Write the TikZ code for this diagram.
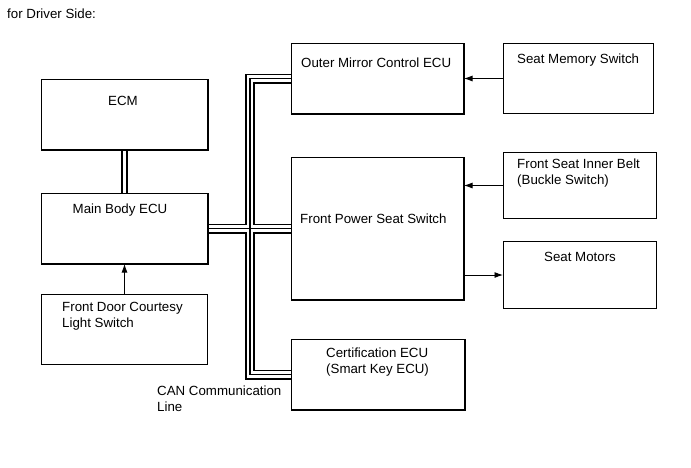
\documentclass[tikz,border=0pt]{standalone}
\usepackage{fontspec}
\setmainfont{Liberation Sans}
\usetikzlibrary{arrows.meta}
\begin{document}
\begin{tikzpicture}[x=1pt,y=-1pt,
  box/.style={draw,line width=1pt,rectangle,inner sep=0pt,anchor=north west},
  lbl/.style={inner sep=0pt,font=\fontsize{13.3}{16}\selectfont},
  sig/.style={line width=0.9pt,-{Latex[length=8.5pt,width=6pt]}},
  busouter/.style={line width=10pt,black},
  businner/.style={line width=6.2pt,white},
  buscore/.style={line width=1.1pt,black},
  pairouter/.style={line width=7pt,black},
  pairinner/.style={line width=2.6pt,white}]
\useasboundingbox (0,0) rectangle (691,467);
% boxes
\node[box,minimum width=166pt,minimum height=70pt] (ecm) at (41,79) {};
\node[box,minimum width=166pt,minimum height=70pt] (mainbody) at (41,193) {};
\node[box,minimum width=166pt,minimum height=70pt] (door) at (41,294) {};
\node[box,minimum width=172pt,minimum height=70pt] (omirror) at (291,43) {};
\node[box,minimum width=172pt,minimum height=142pt] (fpss) at (291,157) {};
\node[box,minimum width=173pt,minimum height=70pt] (cert) at (291,339) {};
\node[box,minimum width=150pt,minimum height=70pt] (smem) at (503,43) {};
\node[box,minimum width=153pt,minimum height=66pt] (buckle) at (503,152) {};
\node[box,minimum width=153pt,minimum height=67pt] (motors) at (503,241) {};
% texts
\node[lbl,anchor=base west] (title) at (7,18) {for Driver Side:};
\node[lbl,anchor=base] (tecm) at (123,105) {ECM};
\node[lbl,anchor=base] (tmain) at (120,213) {Main Body ECU};
\node[lbl,anchor=base west] (tdoor1) at (62,311) {Front Door Courtesy};
\node[lbl,anchor=base west] (tdoor2) at (62,327) {Light Switch};
\node[lbl,anchor=base west] (tmirror) at (301,67) {Outer Mirror Control ECU};
\node[lbl,anchor=base west] (tfpss) at (300,223) {Front Power Seat Switch};
\node[lbl,anchor=base west] (tcert1) at (326,357) {Certification ECU};
\node[lbl,anchor=base west] (tcert2) at (326,373) {(Smart Key ECU)};
\node[lbl,anchor=base west] (tcan1) at (157,395) {CAN Communication};
\node[lbl,anchor=base west] (tcan2) at (157,411) {Line};
\node[lbl,anchor=base west] (tsmem) at (517,63) {Seat Memory Switch};
\node[lbl,anchor=base west] (tbuck1) at (517,168) {Front Seat Inner Belt};
\node[lbl,anchor=base west] (tbuck2) at (517,184) {(Buckle Switch)};
\node[lbl,anchor=base] (tmotors) at (580,261) {Seat Motors};
% CAN bus
\coordinate (bus) at (250,0);
\foreach \s in {busouter,businner,buscore}{
  \draw[\s] (omirror.west) -- (omirror.west -| bus) -- (cert.west -| bus) -- (cert.west);
  \draw[\s] (mainbody.east) -- (fpss.west);
}
% ECM - Main Body pair
\draw[pairouter] (ecm.south) -- (mainbody.north);
\draw[pairinner] (ecm.south) -- (mainbody.north);
% signal arrows
\draw[sig] (door.north) -- (mainbody.south);
\draw[sig] (smem.west) -- (omirror.east);
\draw[sig] (buckle.west) -- (buckle.west -| fpss.east);
\draw[sig] (motors.west -| fpss.east) -- (motors.west);
% redraw box borders over bus ends
\foreach \b in {omirror,fpss,cert,mainbody,ecm}{\draw[line width=1pt] (\b.north west) rectangle (\b.south east);}
\end{tikzpicture}
\end{document}
